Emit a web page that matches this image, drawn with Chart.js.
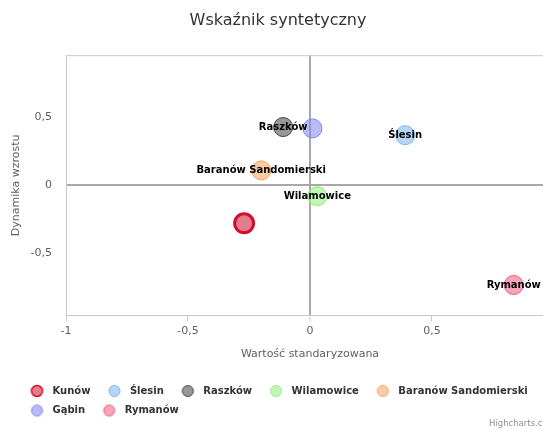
<!DOCTYPE html>
<html>
<head>
<meta charset="utf-8">
<script src="https://cdn.jsdelivr.net/npm/chart.js@4.4.0/dist/chart.umd.min.js"></script>
<style>
  html, body { margin: 0; padding: 0; background: #fff; }
</style>
</head>
<body>
<canvas id="chart" width="543" height="430"></canvas>
<script>
// towns, one bubble each
const NAMES = ['Kunów', 'Ślesin', 'Raszków', 'Wilamowice', 'Baranów Sandomierski', 'Gąbin', 'Rymanów'];
const X_VALUES = [-0.27, 0.39, -0.11, 0.03, -0.20, 0.01, 0.835];
const Y_VALUES = [-0.28, 0.37, 0.43, -0.08, 0.11, 0.42, -0.735];
const X_TICKS = [-1, -0.5, 0, 0.5];
const Y_TICKS = [-0.5, 0, 0.5];
const UNLABELLED = ['Kunów', 'Gąbin'];

const COLORS = ['#d0102e', '#7cb5ec', '#434348', '#90ed7d', '#f7a35c', '#8085e9', '#f15c80'];
const FONT = "'DejaVu Sans', Verdana, sans-serif";

function fade(hex, a) {
  const n = parseInt(hex.slice(1), 16);
  return `rgba(${n >> 16}, ${(n >> 8) & 255}, ${n & 255}, ${a})`;
}

// legend marker: circle sitting a little right of the box centre
function makeSwatch(color, lw) {
  const c = document.createElement('canvas');
  c.width = 25;
  c.height = 14;
  const g = c.getContext('2d');
  g.beginPath();
  g.arc(14.5, 7, 5.5, 0, Math.PI * 2);
  g.fillStyle = fade(color, 0.55);
  g.fill();
  g.lineWidth = lw;
  g.strokeStyle = color;
  g.stroke();
  return c;
}
const SWATCHES = COLORS.map((c, i) => makeSwatch(c, i === 0 ? 1.5 : 1));

const fmt = v => String(v).replace('.', ',');
const zeroColor = ctx => (ctx.tick && ctx.tick.value === 0 ? '#a8a8a8' : 'transparent');
const zeroWidth = ctx => (ctx.tick && ctx.tick.value === 0 ? 2 : 1);

const plotFrame = {
  id: 'plotFrame',
  beforeDatasetsDraw(chart) {
    const { ctx, chartArea: a } = chart;
    ctx.save();
    ctx.strokeStyle = '#c8c8c8';
    ctx.lineWidth = 1;
    ctx.beginPath();
    ctx.moveTo(a.left, a.top + 0.5);
    ctx.lineTo(a.right, a.top + 0.5);
    ctx.stroke();
    ctx.restore();
  }
};

const pointLabels = {
  id: 'pointLabels',
  afterDatasetsDraw(chart) {
    const ctx = chart.ctx;
    ctx.save();
    ctx.font = 'bold 10px ' + FONT;
    ctx.fillStyle = '#000';
    ctx.textAlign = 'center';
    ctx.textBaseline = 'middle';
    chart.data.datasets.forEach((ds, i) => {
      if (UNLABELLED.includes(ds.label)) return;
      const pt = chart.getDatasetMeta(i).data[0];
      ctx.fillText(ds.label, pt.x, pt.y);
    });
    ctx.restore();
  }
};

// x title sits under the middle of the full -1..1 axis, part of which is cut off
const xTitle = {
  id: 'xTitle',
  afterDraw(chart) {
    const ctx = chart.ctx;
    const x = chart.scales.x;
    ctx.save();
    ctx.font = '11px ' + FONT;
    ctx.fillStyle = '#606060';
    ctx.textAlign = 'center';
    ctx.textBaseline = 'middle';
    ctx.fillText('Wartość standaryzowana', (x.getPixelForValue(-1) + x.getPixelForValue(1)) / 2, 354.5);
    ctx.font = '8.5px ' + FONT;
    ctx.fillStyle = '#909090';
    ctx.textAlign = 'left';
    ctx.fillText('Highcharts.com', 489, 424);
    ctx.restore();
  }
};

new Chart(document.getElementById('chart'), {
  type: 'bubble',
  data: {
    datasets: NAMES.map((name, i) => ({
      label: name,
      data: [{ x: X_VALUES[i], y: Y_VALUES[i], r: 9.5 }],
      backgroundColor: fade(COLORS[i], 0.55),
      borderColor: COLORS[i],
      borderWidth: i === 0 ? 3 : 1,
    }))
  },
  options: {
    responsive: false,
    animation: false,
    events: [],
    layout: { autoPadding: false, padding: { left: 13, right: 0, top: 0, bottom: 4.5 } },
    scales: {
      x: {
        type: 'linear',
        min: -1,
        max: 0.955,
        afterBuildTicks: s => { s.ticks = X_TICKS.map(v => ({ value: v })); },
        afterFit: s => { s.height = 61; },
        border: { color: '#c8c8c8', width: 1 },
        grid: { color: zeroColor, lineWidth: zeroWidth, tickColor: '#c8c8c8', tickWidth: 1, tickLength: 6 },
        ticks: { font: { family: FONT, size: 11 }, color: '#606060', padding: 3, maxRotation: 0, autoSkip: false, callback: fmt }
      },
      y: {
        type: 'linear',
        min: -0.96,
        max: 0.96,
        afterBuildTicks: s => { s.ticks = Y_TICKS.map(v => ({ value: v })); },
        afterFit: s => { s.width = 53; },
        border: { color: '#c8c8c8', width: 1 },
        grid: { color: zeroColor, lineWidth: zeroWidth, drawTicks: false },
        ticks: { font: { family: FONT, size: 11 }, color: '#606060', padding: 14, callback: fmt },
        title: {
          display: true,
          text: 'Dynamika wzrostu',
          font: { family: FONT, size: 11 },
          color: '#606060',
          padding: { top: -3, bottom: 0 }
        }
      }
    },
    plugins: {
      title: {
        display: true,
        text: 'Wskaźnik syntetyczny',
        font: { family: FONT, size: 16, weight: 'normal' },
        color: '#333333',
        padding: { top: 11, bottom: 25 }
      },
      legend: {
        position: 'bottom',
        align: 'start',
        labels: {
          font: { family: FONT, size: 10, weight: 'bold' },
          color: '#333333',
          padding: 9.5,
          usePointStyle: true,
          pointStyleWidth: 25,
          generateLabels(chart) {
            const items = Chart.defaults.plugins.legend.labels.generateLabels(chart);
            items.forEach(it => { it.pointStyle = SWATCHES[it.datasetIndex]; });
            return items;
          }
        }
      },
      tooltip: { enabled: false }
    }
  },
  plugins: [plotFrame, pointLabels, xTitle]
});
</script>
</body>
</html>
